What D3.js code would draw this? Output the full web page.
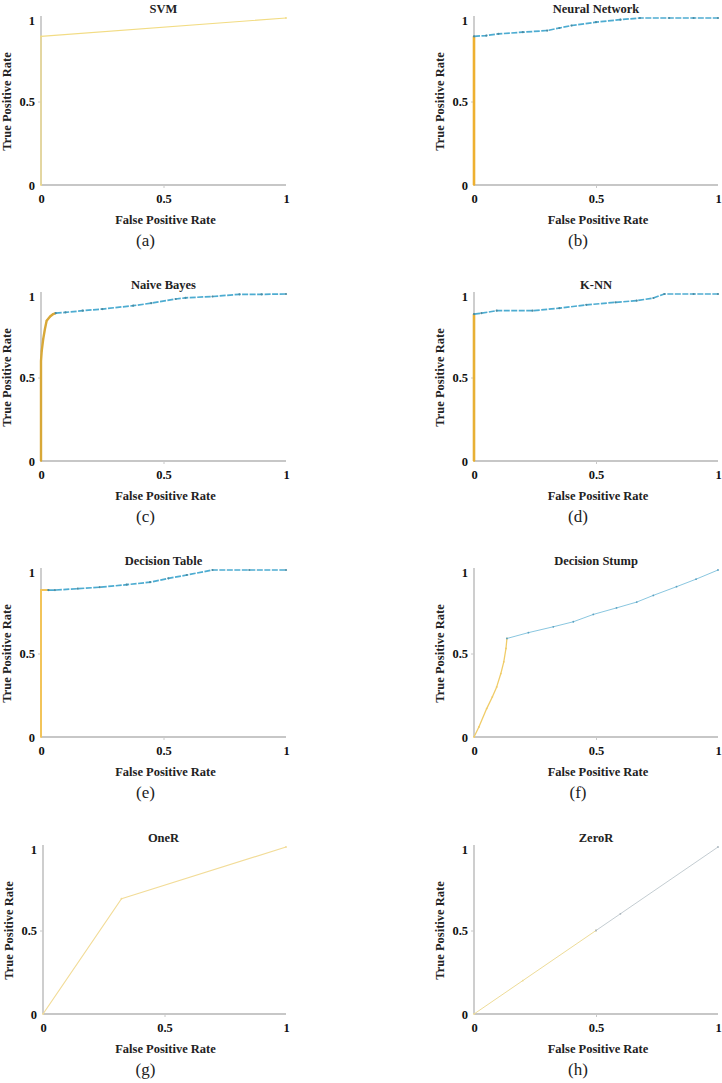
<!DOCTYPE html>
<html><head><meta charset="utf-8">
<script src="https://cdn.jsdelivr.net/npm/d3@7"></script>
<style>body{margin:0;background:#fff}svg{display:block}</style>
</head><body>
<svg id="c" width="722" height="1083"></svg>
<script>
// ---- data ----
const models = ["SVM","Neural Network","Naive Bayes","K-NN","Decision Table","Decision Stump","OneR","ZeroR"];
const subLabels = ["(a)","(b)","(c)","(d)","(e)","(f)","(g)","(h)"];
const xTicks = [0,0.5,1];
const yTicks = [0,0.5,1];
// orange (low threshold) part and blue (high threshold) part of each ROC curve
const svmOrange = [[0,0],[0,0.89],[1,1]];
const svmBlue = [];
const nnOrange = [[0,0],[0,0.3],[0,0.6],[0,0.89]];
const nnBlue = [[0,0.89],[0.05,0.895],[0.1,0.905],[0.2,0.915],[0.3,0.925],[0.35,0.94],[0.4,0.955],[0.5,0.975],[0.6,0.99],[0.68,1],[0.8,1],[0.9,1],[1,1]];
const nbOrange = [[0,0],[0,0.3],[0,0.6],[0.003,0.66],[0.009,0.73],[0.016,0.79],[0.023,0.84],[0.037,0.865],[0.05,0.88],[0.06,0.885]];
const nbBlue = [[0.06,0.885],[0.1,0.89],[0.17,0.9],[0.25,0.91],[0.376,0.93],[0.45,0.945],[0.55,0.97],[0.59,0.977],[0.7,0.985],[0.81,0.998],[0.9,0.998],[1,1]];
const knnOrange = [[0,0],[0,0.3],[0,0.6],[0,0.88]];
const knnBlue = [[0,0.88],[0.03,0.885],[0.093,0.9],[0.24,0.9],[0.35,0.915],[0.46,0.935],[0.58,0.95],[0.667,0.96],[0.735,0.976],[0.78,1],[0.9,1],[1,1]];
const dtOrange = [[0,0],[0,0.3],[0,0.6],[0,0.88],[0.03,0.88]];
const dtBlue = [[0.03,0.88],[0.057,0.88],[0.15,0.888],[0.24,0.897],[0.35,0.912],[0.445,0.927],[0.52,0.95],[0.595,0.97],[0.70,1],[0.85,1],[1,1]];
const dsOrange = [[0,0],[0.02,0.06],[0.052,0.17],[0.075,0.24],[0.093,0.30],[0.11,0.38],[0.122,0.45],[0.131,0.53],[0.135,0.59]];
const dsBlue = [[0.135,0.59],[0.223,0.625],[0.325,0.66],[0.407,0.69],[0.489,0.734],[0.584,0.773],[0.667,0.808],[0.735,0.848],[0.83,0.90],[0.91,0.945],[1,1]];
const oneROrange = [[0,0],[0.323,0.69],[1,1]];
const oneRBlue = [];
const zeroROrange = [[0,0],[0.2,0.2],[0.5,0.5]];
const zeroRBlue = [[0.5,0.5],[0.6,0.6],[1,1]];

const curves = [
  {o:svmOrange,b:svmBlue,oc:"#f2dc84",ow:1.2},
  {o:nnOrange,b:nnBlue,oc:"#eeb030",ow:2.6},
  {o:nbOrange,b:nbBlue,oc:"#d8a838",ow:2.4},
  {o:knnOrange,b:knnBlue,oc:"#e8b034",ow:2.6},
  {o:dtOrange,b:dtBlue,oc:"#f2c45a",ow:2},
  {o:dsOrange,b:dsBlue,oc:"#f0cc68",ow:1.3},
  {o:oneROrange,b:oneRBlue,oc:"#f2dc98",ow:1.2},
  {o:zeroROrange,b:zeroRBlue,oc:"#eedc98",ow:1}
];

// ---- layout ----
const colX = [[41,286],[474,718]];
const rowTop = [18,294,570,847];
const plotH = 167;

const svg = d3.select("#c");
const serif = "'Liberation Serif','Times New Roman',serif";

models.forEach((name,i)=>{
  const col = i%2, row = Math.floor(i/2);
  let x0 = colX[col][0], x1 = colX[col][1];
  if(i===6) x0 = 43;
  const yTop = rowTop[row], yBot = yTop+plotH;
  const x = d3.scaleLinear().domain([0,1]).range([x0,x1]);
  const y = d3.scaleLinear().domain([0,1]).range([yBot,yTop]);
  const g = svg.append("g");

  // axes
  const ax = g.append("g").attr("transform",`translate(0,${yBot})`)
    .call(d3.axisBottom(x).tickValues(xTicks).tickSize(3).tickFormat(d3.format("~g")));
  const ay = g.append("g").attr("transform",`translate(${x0},0)`)
    .call(d3.axisLeft(y).tickValues(yTicks).tickSize(3).tickFormat(d3.format("~g")));
  [ax,ay].forEach(a=>{
    a.select(".domain").attr("stroke","#b4b4b4").attr("stroke-width",1.3);
    a.selectAll(".tick line").attr("stroke","#c8c8c8");
    a.selectAll(".tick text").attr("font-family",serif).attr("font-weight","bold")
      .attr("font-size",12.5).attr("fill","#111");
  });
  ax.select(".domain").attr("d",`M${x0},0H${x1}`);
  ay.select(".domain").attr("d",`M0,${yBot}V${yTop-2}`);
  ax.selectAll(".tick line").filter(d=>d!==0.5).remove();
  ay.selectAll(".tick line").filter(d=>d!==0.5).remove();
  ax.selectAll(".tick text").attr("y",9).attr("dy","0.71em");
  ay.selectAll(".tick text").attr("x",-6).attr("dy",d=>d===1?"0.55em":"0.32em");

  // curves
  const line = d3.line().x(d=>x(d[0])).y(d=>y(d[1]));
  const c = curves[i];
  if(c.o.length){
    g.append("path").attr("d",line(c.o)).attr("fill","none")
      .attr("stroke",c.oc).attr("stroke-width",c.ow).attr("stroke-linejoin","round");
    g.selectAll(null).data(c.o).enter().append("circle")
      .attr("cx",d=>x(d[0])).attr("cy",d=>y(d[1])).attr("r",0.9).attr("fill",c.oc);
  }
  if(c.b.length){
    const light = (i===5||i===7);
    const bc = i===7 ? "#bcc6cc" : (i===5 ? "#7cc0dc" : "#3aa3cc");
    g.append("path").attr("d",line(c.b)).attr("fill","none")
      .attr("stroke",bc).attr("stroke-width",light?1:1.7)
      .attr("stroke-dasharray",light?null:"6,1.5").attr("opacity",0.9);
    g.selectAll(null).data(c.b).enter().append("circle")
      .attr("cx",d=>x(d[0])).attr("cy",d=>y(d[1])).attr("r",light?0.9:1.1)
      .attr("fill",i===7?"#a8b4bc":(i===5?"#5aa0c0":"#4a8aa0"));
  }

  // texts
  const cx = (colX[col][0]+colX[col][1])/2;
  g.append("text").attr("x",cx).attr("y",yTop-5).attr("text-anchor","middle")
    .attr("font-family",serif).attr("font-weight","bold").attr("font-size",12.5).attr("fill","#222").text(name);
  g.append("text").attr("x",cx+2).attr("y",yBot+39).attr("text-anchor","middle")
    .attr("font-family",serif).attr("font-weight","bold").attr("font-size",12.5).attr("fill","#222").text("False Positive Rate");
  g.append("text").attr("transform",`translate(${x0-30},${(yTop+yBot)/2}) rotate(-90)`)
    .attr("text-anchor","middle").attr("font-family",serif).attr("font-weight","bold")
    .attr("font-size",12.5).attr("fill","#222").text("True Positive Rate");
  g.append("text").attr("x",cx-18).attr("y",yBot+61).attr("text-anchor","middle")
    .attr("font-family",serif).attr("font-size",17).attr("fill","#222").text(subLabels[i]);
});
</script>
</body></html>
